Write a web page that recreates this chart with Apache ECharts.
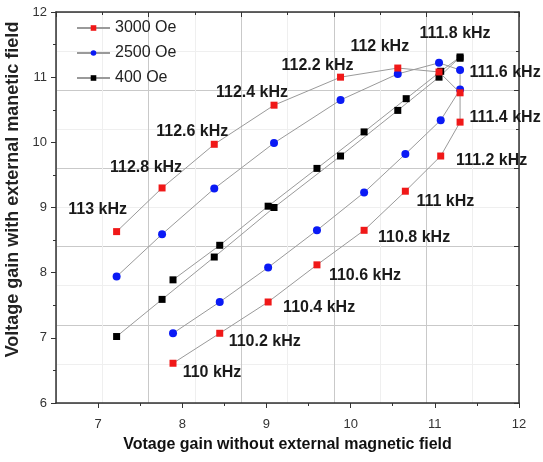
<!DOCTYPE html>
<html><head><meta charset="utf-8">
<script src="https://cdn.jsdelivr.net/npm/echarts@6/dist/echarts.min.js"></script>
<style>html,body{margin:0;padding:0;background:#fff}#c{width:543px;height:462px}</style>
</head><body><div id="c"></div>
<script>
// ---- data ----
const freqLabels = ['113 kHz','112.8 kHz','112.6 kHz','112.4 kHz','112.2 kHz','112 kHz','111.8 kHz','111.6 kHz',
                    '111.4 kHz','111.2 kHz','111 kHz','110.8 kHz','110.6 kHz','110.4 kHz','110.2 kHz','110 kHz'];
const xGain3000 = [7.22,7.76,8.38,9.09,9.88,10.56,11.05,11.30,11.30,11.07,10.65,10.16,9.60,9.02,8.445,7.89];
const yGain3000 = [8.63,9.30,9.97,10.57,11.00,11.14,11.08,10.76,10.31,9.79,9.25,8.65,8.12,7.55,7.07,6.61];
const xGain2500 = [7.22,7.76,8.38,9.09,9.88,10.56,11.05,11.30,11.30,11.07,10.65,10.16,9.60,9.02,8.445,7.89];
const yGain2500 = [7.94,8.59,9.29,9.99,10.65,11.05,11.22,11.11,10.81,10.34,9.82,9.23,8.65,8.08,7.55,7.07];
const xGain400  = [7.22,7.76,8.38,9.09,9.88,10.56,11.05,11.30,11.30,11.07,10.66,10.16,9.60,9.02,8.445,7.89];
const yGain400  = [7.02,7.59,8.24,9.00,9.79,10.49,11.00,11.31,11.29,11.09,10.67,10.16,9.60,9.02,8.42,7.89];
const seriesNames = ['3000 Oe','2500 Oe','400 Oe'];
const xTickValues = [7,8,9,10,11,12];
const xHalfTickValues = [7.5,8.5,9.5,10.5,11.5];

// ---- styling (label placement relative to each red point, px) ----
const labelOffsets = [[-19,-22],[-16,-20],[-22,-13],[-22,-13],[-23,-12],[-18,-21],[16,-38],[45,-20],
                      [45,-5],[51,5],[40,10],[50,7],[48,11],[51,6],[45,8],[39,9]];

function pairs(xs, ys){ return xs.map((x,i)=>[x, ys[i]]); }

const chart = echarts.init(document.getElementById('c'));
const lineGray = '#9a9a9a';
const axisCol = '#333';
const FF = 'Liberation Sans, Arial, sans-serif';
const option = {
  animation:false,
  backgroundColor:'#fff',
  grid:{left:56,right:24,top:12,bottom:59,containLabel:false,outerBoundsMode:'none'},
  legend:{
    data:seriesNames, orient:'vertical', left:71, top:15, itemWidth:33, itemHeight:7, itemGap:9,
    textStyle:{fontSize:16,color:'#222',fontFamily:FF}
  },
  xAxis:[
    {type:'value', position:'bottom', min:6.5, max:12, interval:0.5,
     name:'Votage gain without external magnetic field', nameLocation:'middle', nameGap:34,
     nameTextStyle:{fontSize:16,fontWeight:'bold',color:'#111',fontFamily:FF},
     axisLine:{show:true,lineStyle:{color:axisCol,width:1.5}},
     axisTick:{show:true,inside:false,length:5,customValues:xTickValues,lineStyle:{color:axisCol}},
     axisLabel:{show:true,customValues:xTickValues,margin:15,fontSize:13,color:'#333',fontFamily:FF},
     splitLine:{show:false}},
    {type:'value', position:'top', min:6.5, max:12, interval:1.1,
     axisLine:{show:true,lineStyle:{color:axisCol,width:1.5}},
     axisTick:{show:true,inside:true,length:5,lineStyle:{color:axisCol}},
     minorTick:{show:true,splitNumber:2,length:3,lineStyle:{color:axisCol}},
     axisLabel:{show:false},
     splitLine:{show:true,lineStyle:{color:'#c9c9c9',width:1}},
     minorSplitLine:{show:true,lineStyle:{color:'#efefef',width:1}}},
    {type:'value', position:'bottom', min:6.5, max:12, interval:0.5,
     axisLine:{show:false},
     axisTick:{show:true,inside:false,length:3,customValues:xHalfTickValues,lineStyle:{color:axisCol}},
     axisLabel:{show:false}, splitLine:{show:false}}
  ],
  yAxis:[
    {type:'value', position:'left', min:6, max:12, interval:1,
     name:'Voltage gain with external manetic field', nameLocation:'middle', nameGap:33, nameRotate:90,
     nameTextStyle:{fontSize:18,fontWeight:'bold',color:'#222',fontFamily:FF,padding:[0,0,0,36]},
     axisLine:{show:true,lineStyle:{color:axisCol,width:1.5}},
     axisTick:{show:true,inside:false,length:5,lineStyle:{color:axisCol}},
     minorTick:{show:true,splitNumber:2,length:3,lineStyle:{color:axisCol}},
     axisLabel:{margin:9,fontSize:13,color:'#333',fontFamily:FF},
     splitLine:{show:false}},
    {type:'value', position:'right', min:6, max:12, interval:1.2,
     axisLine:{show:true,lineStyle:{color:axisCol,width:1.5}},
     axisTick:{show:true,inside:true,length:5,lineStyle:{color:axisCol}},
     minorTick:{show:true,splitNumber:2,length:3,lineStyle:{color:axisCol}},
     axisLabel:{show:false},
     splitLine:{show:true,lineStyle:{color:'#c9c9c9',width:1}},
     minorSplitLine:{show:true,lineStyle:{color:'#efefef',width:1}}}
  ],
  series:[
    {name:seriesNames[2], type:'line', data:pairs(xGain400,yGain400), symbol:'rect', symbolSize:7,
     itemStyle:{color:'#000'}, lineStyle:{color:lineGray,width:1}, z:3},
    {name:seriesNames[1], type:'line', data:pairs(xGain2500,yGain2500), symbol:'circle', symbolSize:8,
     itemStyle:{color:'#0a1af5'}, lineStyle:{color:lineGray,width:1}, z:4},
    {name:seriesNames[0], type:'line', symbol:'rect', symbolSize:7,
     itemStyle:{color:'#f01818'}, lineStyle:{color:lineGray,width:1}, z:5,
     data:pairs(xGain3000,yGain3000),
     label:{show:true, position:'inside', align:'center', verticalAlign:'middle',
       formatter:(p)=>freqLabels[p.dataIndex], fontSize:16, fontWeight:'bold', color:'#1a1a1a',
       fontFamily:FF},
     labelLayout:(p)=>({dx:labelOffsets[p.dataIndex][0], dy:labelOffsets[p.dataIndex][1], hideOverlap:false})}
  ]
};
chart.setOption(option);
</script></body></html>
